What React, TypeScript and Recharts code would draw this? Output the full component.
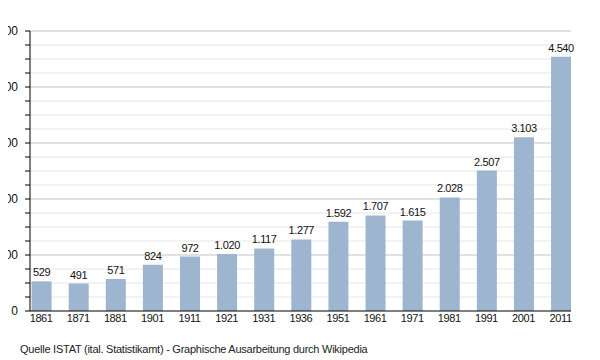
import { Bar, BarChart, CartesianGrid, LabelList, XAxis, YAxis } from "recharts";

const years = ["1861", "1871", "1881", "1901", "1911", "1921", "1931", "1936", "1951", "1961", "1971", "1981", "1991", "2001", "2011"];
const population = [529, 491, 571, 824, 972, 1020, 1117, 1277, 1592, 1707, 1615, 2028, 2507, 3103, 4540];
const yTicks = [0, 250, 500, 750, 1000, 1250, 1500, 1750, 2000, 2250, 2500, 2750, 3000, 3250, 3500, 3750, 4000, 4250, 4500, 4750, 5000];
const majorLines = [1000, 2000, 3000, 4000, 5000];
const minorLines = yTicks.filter((v) => v > 0 && v % 1000 !== 0);

const data = years.map((year, i) => ({ idx: i, year, value: population[i] }));

const fmt = (v: number) => v.toLocaleString("de-DE");
const font = "'Liberation Sans', Arial, sans-serif";
const textStyle = { fill: "#111", fontSize: 11, fontFamily: font, letterSpacing: -0.4 };

export default function App() {
  return (
    <div style={{ position: "relative", width: 600, height: 360, margin: "-8px 0 0 -8px", fontFamily: font }}>
      <BarChart
        width={600}
        height={360}
        data={data}
        margin={{ top: 31, right: 29, left: 0, bottom: 29 }}
      >
        <CartesianGrid vertical={false} horizontalValues={minorLines} stroke="#e6e6e6" />
        <CartesianGrid vertical={false} horizontalValues={majorLines} stroke="#c4c4c4" />
        <XAxis
          dataKey="idx"
          type="number"
          domain={[-0.3, 14.28]}
          ticks={data.map((d) => d.idx)}
          interval={0}
          allowDataOverflow
          tickFormatter={(v: number) => years[v]}
          tickLine={false}
          tickSize={0}
          tickMargin={3}
          axisLine={{ stroke: "#000" }}
          tick={textStyle}
          height={20}
        />
        <YAxis
          domain={[0, 5000]}
          ticks={yTicks}
          interval={0}
          width={30}
          tickFormatter={(v: number) => (v % 1000 === 0 ? fmt(v) : "")}
          tickSize={5}
          tickMargin={7}
          tickLine={{ stroke: "#000" }}
          axisLine={{ stroke: "#000" }}
          tick={{ fill: "#111", fontSize: 12, fontFamily: font }}
        />
        <Bar dataKey="value" fill="#9db5ce" barSize={20} isAnimationActive={false}>
          <LabelList
            dataKey="value"
            position="top"
            offset={5}
            formatter={(v: number) => fmt(v)}
            style={textStyle}
          />
        </Bar>
      </BarChart>
      <div style={{ position: "absolute", left: 20, top: 343, fontSize: 11, color: "#222", letterSpacing: -0.25 }}>
        Quelle ISTAT (ital. Statistikamt) - Graphische Ausarbeitung durch Wikipedia
      </div>
    </div>
  );
}
